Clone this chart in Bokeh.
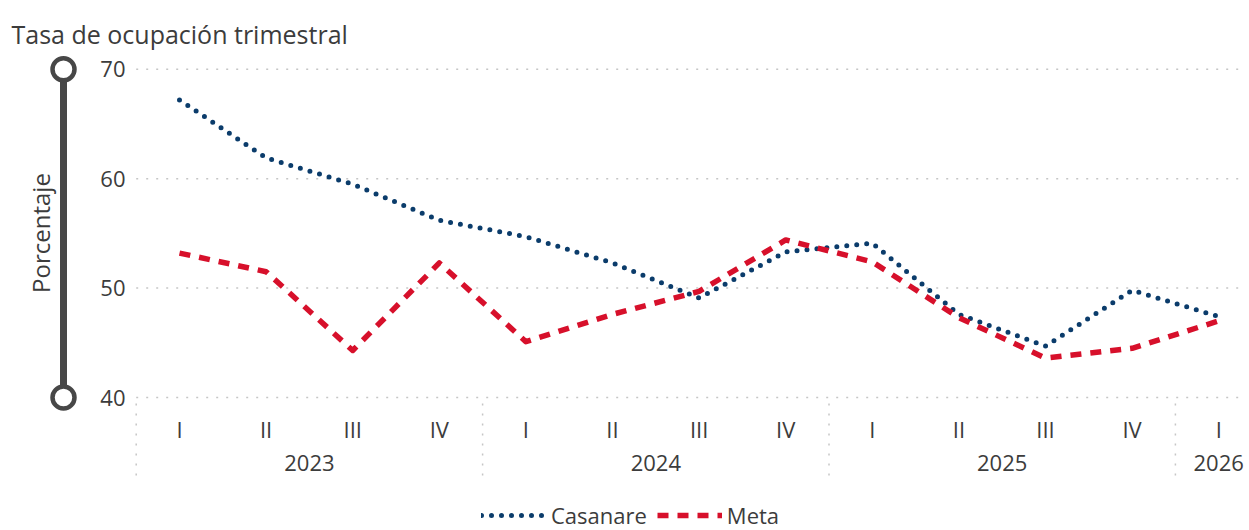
import math
from bokeh.plotting import figure
from bokeh.models import Range1d, Legend, LegendItem, Label
from bokeh.core.properties import value
from bokeh.embed import file_html
from bokeh.resources import INLINE

# ---------------- data ----------------
year = ["2023"] * 4 + ["2024"] * 4 + ["2025"] * 4 + ["2026"]
quarter = ["I", "II", "III", "IV"] * 3 + ["I"]
casanare = [67.2, 61.9, 59.5, 56.2, 54.7, 52.3, 49.1, 53.3, 54.1, 47.6, 44.7, 49.8, 47.4]
meta = [53.2, 51.5, 44.3, 52.3, 45.1, 47.6, 49.7, 54.4, 52.4, 47.3, 43.6, 44.5, 47.0]
y_ticks = [40, 50, 60, 70]
title_text = "Tasa de ocupación trimestral"
y_title = "Porcentaje"
series_names = ["Casanare", "Meta"]

# ---------------- layout (canvas pixels) ----------------
W, H = 1249, 530
X0_PX, DX_PX = 179.0, 86.6        # pixel of first period, pixels per period
Y_TOP_PX, Y_BOT_PX = 68.8, 397.0  # pixels of top / bottom y tick
PLOT_RIGHT_PX = 1245
FONT = "Open Sans"
TXT = "#3c3c3c"
GRID = "#c6c6c6"
DECO = "#474747"
C_CAS = "#0b3c6b"
C_META = "#d7102b"

idx = list(range(len(quarter)))
ymin, ymax = min(y_ticks), max(y_ticks)
ppu = (Y_BOT_PX - Y_TOP_PX) / (ymax - ymin)


def xdata(px):
    return (px - X0_PX) / DX_PX


def ydata(py):
    return ymax - (py - Y_TOP_PX) / ppu


p = figure(width=W, height=H, output_backend="svg", toolbar_location=None, title=None,
           x_range=Range1d(xdata(0), xdata(W)), y_range=Range1d(ydata(H), ydata(0)),
           x_axis_location=None, y_axis_location=None)
p.min_border = 0
p.min_border_left = 0
p.min_border_right = 0
p.min_border_top = 0
p.min_border_bottom = 0
p.outline_line_color = None
p.grid.visible = False
p.background_fill_color = "white"
p.border_fill_color = "white"

# group structure derived from data
seps = [idx[0] - 0.5] + [i - 0.5 for i in idx[1:] if year[i] != year[i - 1]]
groups = []
for i, yv in zip(idx, year):
    if not groups or groups[-1][0] != yv:
        groups.append([yv, []])
    groups[-1][1].append(i)
centers = [sum(g[1]) / len(g[1]) for g in groups]
group_names = [g[0] for g in groups]

# horizontal dotted gridlines
x_right = xdata(PLOT_RIGHT_PX)
p.segment(x0=[idx[0] - 0.5] * len(y_ticks), x1=[x_right] * len(y_ticks), y0=y_ticks, y1=y_ticks,
          line_color=GRID, line_width=1.5, line_dash="2 8")

# vertical dotted group separators (below the plot area)
p.segment(x0=seps, x1=seps, y0=[ydata(403)] * len(seps), y1=[ydata(476)] * len(seps),
          line_color=GRID, line_width=1.5, line_dash="2 8")

# y tick labels
p.text(x=[xdata(125)] * len(y_ticks), y=y_ticks, text=[str(t) for t in y_ticks],
       text_align="right", text_baseline="middle", text_font=value(FONT),
       text_font_size="22px", text_color=TXT)

# x tick labels: quarters and years
p.text(x=idx, y=[ydata(428)] * len(idx), text=quarter,
       text_align="center", text_baseline="alphabetic", text_font=value(FONT),
       text_font_size="22px", text_color=TXT)
p.text(x=centers, y=[ydata(462)] * len(centers), text=group_names,
       text_align="center", text_baseline="alphabetic", text_font=value(FONT),
       text_font_size="22px", text_color=TXT)

# slider-like decoration on the y axis
xd = xdata(63)
p.segment(x0=[xd], x1=[xd], y0=[ymin], y1=[ymax], line_color=DECO, line_width=7)
p.scatter(x=[xd, xd], y=[ymin, ymax], size=22, fill_color="white",
          line_color=DECO, line_width=4.5)

# axis title and chart title
p.add_layout(Label(x=xdata(40), y=ydata(232.5), text=y_title, angle=math.pi / 2,
                   text_align="center", text_baseline="alphabetic",
                   text_font=FONT, text_font_size="24px", text_color=TXT))
p.add_layout(Label(x=xdata(11), y=ydata(33), text=title_text,
                   text_align="left", text_baseline="alphabetic",
                   text_font=FONT, text_font_size="25px", text_color=TXT))

# series
r1 = p.line(idx, casanare, line_color=C_CAS, line_width=5, line_dash="0 10",
            line_cap="round", line_join="round")
r2 = p.line(idx, meta, line_color=C_META, line_width=5.5, line_dash="11 9",
            line_cap="butt", line_join="round")

legend = Legend(items=[LegendItem(label=series_names[0], renderers=[r1]),
                       LegendItem(label=series_names[1], renderers=[r2])],
                orientation="horizontal", location=(481, 0),
                glyph_width=65, glyph_height=20, label_standoff=5, spacing=10,
                label_text_font=FONT, label_text_font_size="22px", label_text_color=TXT,
                border_line_color=None, background_fill_alpha=0, padding=0, margin=0)
p.add_layout(legend)

open("out.html", "w").write(file_html(p, INLINE))
